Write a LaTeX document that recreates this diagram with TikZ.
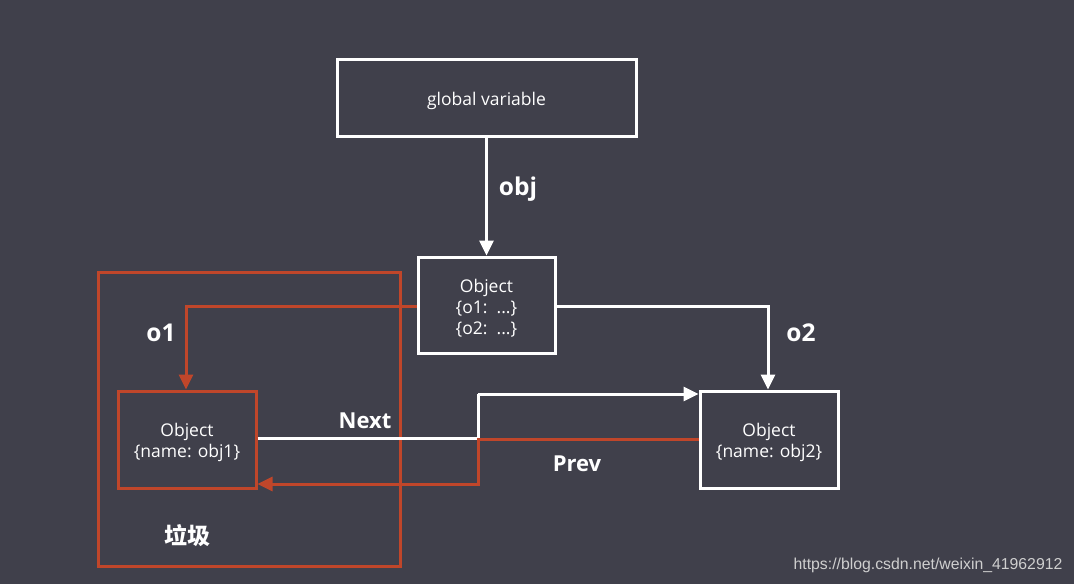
\documentclass[tikz,border=0pt]{standalone}
\usepackage{fontspec}
\setmainfont{Open Sans}
\newfontfamily\cjk{Noto Sans CJK SC}
\newfontfamily\wmfont{Liberation Sans}
\usetikzlibrary{arrows.meta}
\definecolor{bg}{HTML}{40404B}
\definecolor{rd}{HTML}{C0462A}
\definecolor{wm}{HTML}{CFCFCF}
\tikzset{
  wbox/.style={draw=white, line width=3pt, inner sep=0pt},
  rbox/.style={draw=rd, line width=3pt, inner sep=0pt},
  btext/.style={text=white, font=\fontsize{17.5}{21}\selectfont, align=center, inner sep=0pt, yshift=-3pt},
  wline/.style={draw=white, line width=3pt},
  rline/.style={draw=rd, line width=3pt},
  tip/.style={-{Triangle[length=15pt,width=14pt]}},
  lbl/.style={text=white, font=\bfseries\fontsize{22}{26}\selectfont},
  lblb/.style={text=white, font=\bfseries\fontsize{24.5}{28}\selectfont},
}
\begin{document}
\begin{tikzpicture}[x=1pt,y=-1pt]
\fill[bg] (0,0) rectangle (1074,584);
\useasboundingbox (0,0) rectangle (1074,584);
% boxes
\node[wbox, minimum width=299pt, minimum height=77pt] (gv) at (486.5,97.5) {};
\node[wbox, minimum width=137pt, minimum height=96pt] (obj) at (486.5,305) {};
\node[rbox, minimum width=138pt, minimum height=97pt] (o1b) at (187,439.5) {};
\node[wbox, minimum width=138pt, minimum height=97pt] (o2b) at (769,439.5) {};
\node[btext] (gvt) at (gv) {global variable};
\node[btext] (objt) at (obj) {Object\\\{o1:\ \ ...\}\\\{o2:\ \ ...\}};
\node[btext] (o1t) at (o1b) {Object\\\{name: obj1\}};
\node[btext] (o2t) at (o2b) {Object\\\{name: obj2\}};
\draw[rline] (98,272) rectangle (400,566);
% coordinates
\coordinate (o1c) at (186,306);
\coordinate (o2c) at (768,306);
\coordinate (nx1) at (478,438);
\coordinate (nx2) at (478,394);
\coordinate (pv1) at (478,439);
\coordinate (pv2) at (478,484);
% connectors
\draw[wline, tip] (gv.south) -- (obj.north);
\draw[rline, tip] (obj.west |- o1c) -- (o1c) -- (o1c |- o1b.north);
\draw[wline, tip] (obj.east |- o2c) -- (o2c) -- (o2c |- o2b.north);
\draw[wline] (o1b.east |- nx1) -- (nx1) -- (nx2);
\draw[wline, tip] (nx2) -- (o2b.west |- nx2);
\draw[rline, tip] (o2b.west |- pv1) -- (pv1) -- (pv2) -- (o1b.east |- pv2);
% labels
\node[lblb] (lobj) at (518,189) {obj};
\node[lblb] (lo1) at (161,333) {o1};
\node[lblb] (lo2) at (801,333) {o2};
\node[lbl] (lnext) at (365,421) {Next};
\node[lbl] (lprev) at (577,464) {Prev};
\node[text=white, font=\cjk\bfseries\fontsize{23}{26}\selectfont] (lgb) at (187,536) {垃圾};
\node[text=wm, font=\wmfont\fontsize{15.8}{18}\selectfont] (wmk) at (928,565) {https://blog.csdn.net/weixin\_41962912};
\end{tikzpicture}
\end{document}
